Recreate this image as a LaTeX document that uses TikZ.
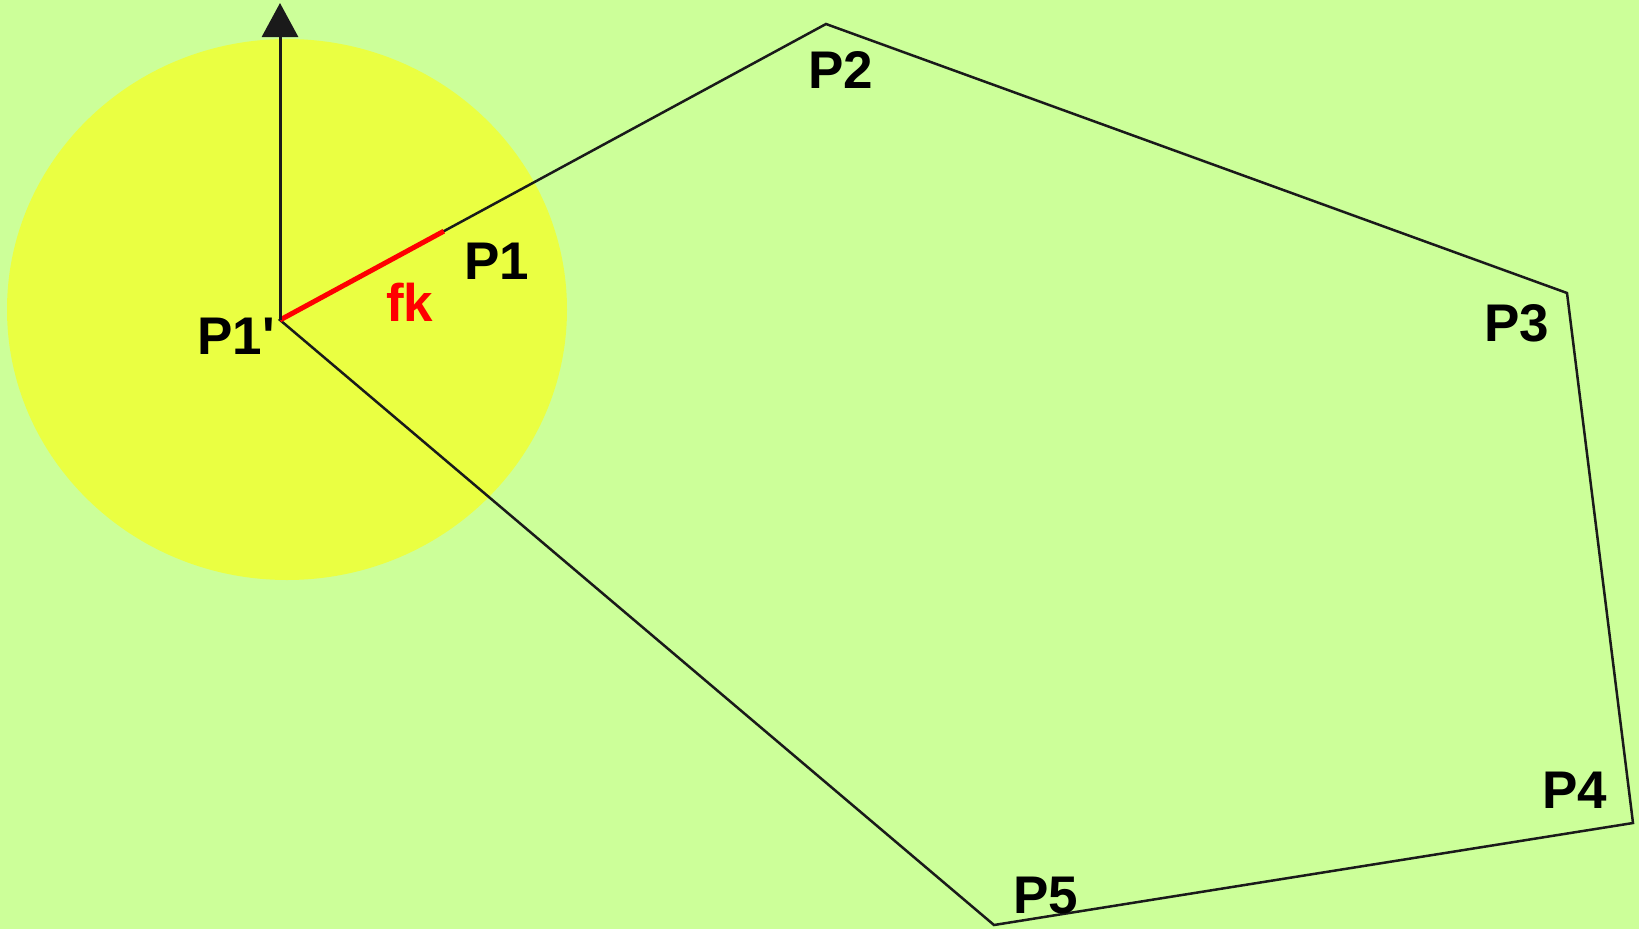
\documentclass[tikz,border=0pt]{standalone}
\usepackage{fontspec}
\setmainfont{Liberation Sans}
\usetikzlibrary{arrows.meta,calc}
\definecolor{bg}{HTML}{CCFF99}
\definecolor{disc}{HTML}{EAFF42}
\definecolor{ink}{HTML}{1A1A1A}
\definecolor{fkred}{HTML}{FF0000}
\tikzset{
  edge/.style={draw=ink, line width=2.5pt, line join=miter},
  fkline/.style={draw=fkred, line width=5pt},
  axis/.style={draw=ink, line width=3pt, -{Triangle[width=36pt,length=34pt]}},
  lab/.style={inner sep=0pt, anchor=base west, font=\fontsize{53}{60}\selectfont\bfseries},
}
\begin{document}
\begin{tikzpicture}[x=1pt,y=-1pt]
\fill[bg] (0,0) rectangle (1639,929);
\useasboundingbox (0,0) rectangle (1639,929);
\fill[disc] (287,309.5) ellipse [x radius=280, y radius=270.5];
\coordinate (Q) at (280,320);
\coordinate (P2) at (826,24);
\coordinate (P3) at (1567,293);
\coordinate (P4) at (1633,823);
\coordinate (P5) at (994,925);
\coordinate (P1) at ($(Q)!0.3!(P2)$);
\coordinate (top) at (280,3);
\draw[edge] (Q) -- (P2) -- (P3) -- (P4) -- (P5) -- cycle;
\draw[fkline] (Q) -- (P1);
\draw[axis] (Q) -- (top);
\node[lab] (lQ) at (197,354) {P1\textquotesingle};
\node[lab] (lP1) at (464,279) {P1};
\node[lab, text=fkred] (lfk) at (386,321) {fk};
\node[lab] (lP2) at (808,88) {P2};
\node[lab] (lP3) at (1484,341) {P3};
\node[lab] (lP4) at (1542,808) {P4};
\node[lab] (lP5) at (1013,913) {P5};
\end{tikzpicture}
\end{document}
